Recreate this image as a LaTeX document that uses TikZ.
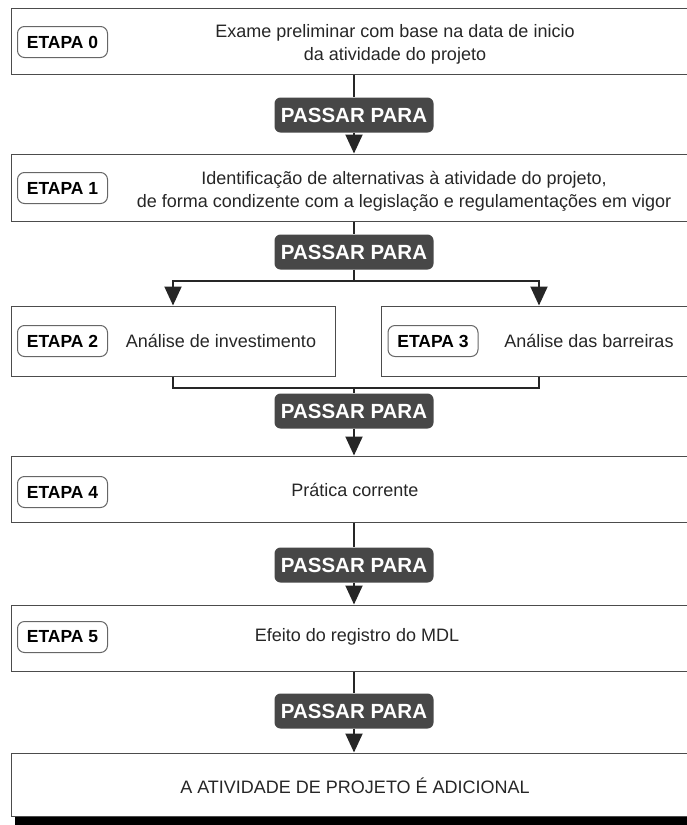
\documentclass[tikz,border=0pt]{standalone}
\usepackage{fontspec}
\setmainfont{Liberation Sans}
\usetikzlibrary{arrows.meta}

\begin{document}
\begin{tikzpicture}[x=1pt,y=-1pt,
    caixa/.style={draw=black!70,line width=1pt,inner sep=0pt},
    rotulo/.style={draw=black!60,line width=1pt,rounded corners=7pt,inner sep=0pt,
        minimum width=90pt,minimum height=31pt,font=\bfseries\fontsize{17.5}{19}\selectfont},
    texto/.style={align=center,text=black!85,font=\fontsize{18}{23}\selectfont},
    passar/.style={fill=black!72,rounded corners=6pt,inner sep=0pt,text=white,
        minimum width=159pt,minimum height=35pt,font=\bfseries\fontsize{20.5}{22}\selectfont},
    linha/.style={draw=black!85,line width=2pt},
    seta/.style={linha,-{Triangle[length=19pt,width=17pt]}}]
    \useasboundingbox (0,0) rectangle (687,825);

    % caixas das etapas
    \node[caixa,minimum width=686pt,minimum height=66pt] (caixa0) at (354,41) {};
    \node[caixa,minimum width=686pt,minimum height=67pt] (caixa1) at (354,187.5) {};
    \node[caixa,minimum width=324pt,minimum height=70pt] (caixa2) at (173,341) {};
    \node[caixa,minimum width=316pt,minimum height=70pt] (caixa3) at (539,341) {};
    \node[caixa,minimum width=686pt,minimum height=66pt] (caixa4) at (354,489) {};
    \node[caixa,minimum width=686pt,minimum height=66pt] (caixa5) at (354,638) {};
    \fill[black] (15,816) rectangle (697,825);
    \node[caixa,minimum width=686pt,minimum height=63pt,fill=white] (caixa6) at (354,784.5) {};

    \node[rotulo] (etapa0) at (62.5,42) {ETAPA 0};
    \node[rotulo] (etapa1) at (62.5,188) {ETAPA 1};
    \node[rotulo] (etapa2) at (62.5,341) {ETAPA 2};
    \node[rotulo] (etapa3) at (433,341) {ETAPA 3};
    \node[rotulo] (etapa4) at (62.5,492) {ETAPA 4};
    \node[rotulo] (etapa5) at (62.5,637) {ETAPA 5};

    \node[texto] (txt0) at (395,44) {Exame preliminar com base na data de inicio\\da atividade do projeto};
    \node[texto] (txt1) at (404,191) {Identificação de alternativas à atividade do projeto,\\de forma condizente com a legislação e regulamentações em vigor};
    \node[texto] (txt2) at (221,341) {Análise de investimento};
    \node[texto] (txt3) at (589,341) {Análise das barreiras};
    \node[texto] (txt4) at (355,490) {Prática corrente};
    \node[texto] (txt5) at (357,637) {Efeito do registro do MDL};
    \node[texto] (txt6) at (355,786) {A ATIVIDADE DE PROJETO É ADICIONAL};

    \foreach \n/\y in {0/115,1/252,2/411,3/565,4/711}{
        \node[passar] (passar\n) at (354,\y) {PASSAR PARA};
    }

    % ligacoes
    \draw[linha] (caixa0.south) -- (passar0.north);
    \draw[seta] (passar0.south) -- (caixa1.north);
    \draw[linha] (caixa1.south) -- (passar1.north);
    \draw[linha] (passar1.south) -- ++(0,11) coordinate (ramo);
    \draw[seta] (ramo) -| (caixa2.north);
    \draw[seta] (ramo) -| (caixa3.north);
    \coordinate (junta) at (354,388);
    \draw[linha] (caixa2.south) |- (junta) -| (caixa3.south);
    \draw[linha] (junta) -- (passar2.north);
    \draw[seta] (passar2.south) -- (caixa4.north);
    \draw[linha] (caixa4.south) -- (passar3.north);
    \draw[seta] (passar3.south) -- (caixa5.north);
    \draw[linha] (caixa5.south) -- (passar4.north);
    \draw[seta] (passar4.south) -- (caixa6.north);
\end{tikzpicture}
\end{document}
